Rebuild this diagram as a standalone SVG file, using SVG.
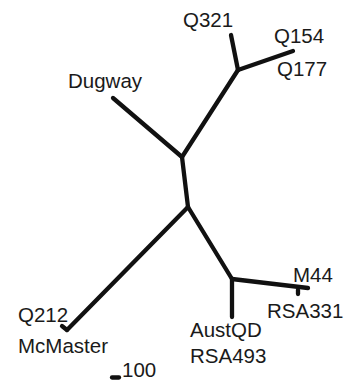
<svg xmlns="http://www.w3.org/2000/svg" width="346" height="383" viewBox="0 0 346 383">
  <style>
    .br { stroke: #111; stroke-width: 4.3; fill: none; stroke-linecap: round; stroke-linejoin: round; }
    .lbl { font-family: "Liberation Sans", Arial, sans-serif; font-size: 20.5px; fill: #1a1a1a; }
  </style>
  <rect width="346" height="383" fill="#fff"/>
  <g id="connectors">
    <!-- internal branches -->
    <path class="br" d="M182 157 L188 207"/>
    <path class="br" d="M182 157 L238 70"/>
    <path class="br" d="M188 207 L232 279"/>
    <!-- terminal branches -->
    <path class="br" d="M182 157 L113 98"/>
    <path class="br" d="M238 70 L231 35"/>
    <path class="br" d="M238 70 L293 51"/>
    <path class="br" d="M188 207 L67 330"/>
    <path class="br" d="M62 326 L67 330"/>
    <path class="br" d="M232 279 L232 317"/>
    <path class="br" d="M232 279 L308 288"/>
    <path class="br" d="M298 290 L298 294"/>
  </g>
  <g id="Q321"><text class="lbl" x="183" y="27">Q321</text></g>
  <g id="Q154"><text class="lbl" x="274" y="43">Q154</text></g>
  <g id="Q177"><text class="lbl" x="277" y="76">Q177</text></g>
  <g id="Dugway"><text class="lbl" x="68" y="88">Dugway</text></g>
  <g id="Q212"><text class="lbl" x="18" y="322">Q212</text></g>
  <g id="McMaster"><text class="lbl" x="18" y="353">McMaster</text></g>
  <g id="M44"><text class="lbl" x="293" y="282">M44</text></g>
  <g id="RSA331"><text class="lbl" x="267" y="318">RSA331</text></g>
  <g id="AustQD"><text class="lbl" x="190" y="337">AustQD</text></g>
  <g id="RSA493"><text class="lbl" x="190" y="363">RSA493</text></g>
  <g id="scale">
    <path class="br" d="M112 377.5 L119 377.5"/>
    <text class="lbl" x="122" y="377">100</text>
  </g>
</svg>
